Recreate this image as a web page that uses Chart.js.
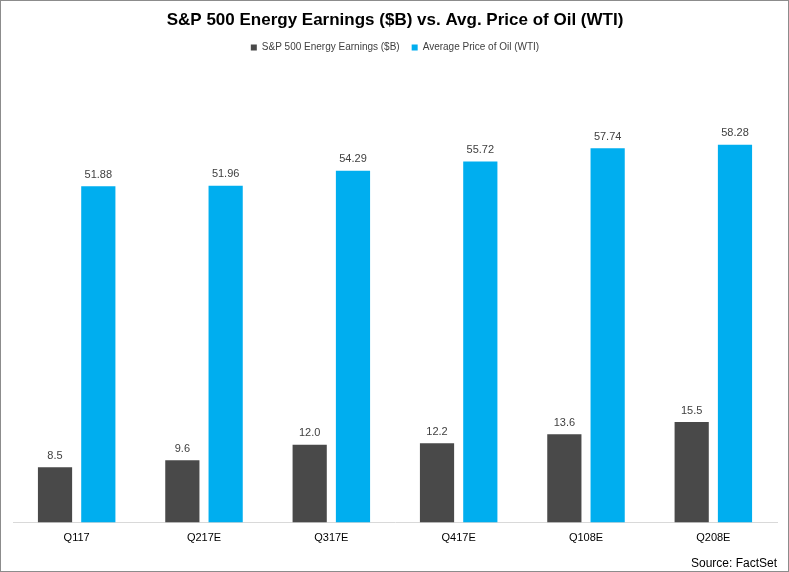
<!DOCTYPE html>
<html>
<head>
<meta charset="utf-8">
<script src="https://cdn.jsdelivr.net/npm/chart.js@4"></script>
<style>
  html, body { margin: 0; padding: 0; background: #fff; }
  #wrap { width: 789px; height: 572px; box-sizing: border-box; border: 1px solid #8c8c8c; }
</style>
</head>
<body>
<div id="wrap"><canvas id="chart1"></canvas></div>
<script>
var quarters = ["Q117", "Q217E", "Q317E", "Q417E", "Q108E", "Q208E"];
var earnings = [8.5, 9.6, 12.0, 12.2, 13.6, 15.5];
var oilPrice = [51.88, 51.96, 54.29, 55.72, 57.74, 58.28];

// simple value labels above each bar
var barLabels = {
  id: "barLabels",
  afterDatasetsDraw: function (chart) {
    var ctx = chart.ctx;
    ctx.save();
    ctx.font = "11px 'Liberation Sans', Arial, sans-serif";
    ctx.fillStyle = "#404040";
    ctx.textAlign = "center";
    ctx.textBaseline = "bottom";
    chart.data.datasets.forEach(function (ds, i) {
      var digits = i === 0 ? 1 : 2;
      chart.getDatasetMeta(i).data.forEach(function (bar, j) {
        ctx.fillText(ds.data[j].toFixed(digits), bar.x, bar.y - 6);
      });
    });
    ctx.restore();
  }
};

var ctx = document.getElementById("chart1");

new Chart(ctx, {
  type: "bar",
  data: {
    labels: quarters,
    datasets: [
      {
        label: "S&P 500 Energy Earnings ($B)",
        data: earnings,
        backgroundColor: "#494949",
        categoryPercentage: 0.68,
        barPercentage: 0.79
      },
      {
        label: "Average Price of Oil (WTI)",
        data: oilPrice,
        backgroundColor: "#00AEEF",
        categoryPercentage: 0.68,
        barPercentage: 0.79
      }
    ]
  },
  options: {
    responsive: true,
    maintainAspectRatio: false,
    animation: false,
    layout: { padding: { left: 12, right: 11, top: 2, bottom: 0 } },
    plugins: {
      title: {
        display: true,
        text: "S&P 500 Energy Earnings ($B) vs. Avg. Price of Oil (WTI)",
        color: "#000",
        font: { family: "'Liberation Sans', Arial, sans-serif", size: 17, weight: "bold" },
        padding: { top: 7, bottom: 0 }
      },
      subtitle: {
        display: true,
        position: "bottom",
        align: "end",
        text: "Source: FactSet",
        color: "#000",
        font: { family: "'Liberation Sans', Arial, sans-serif", size: 12 },
        padding: { top: 11, bottom: 0 }
      },
      legend: {
        labels: {
          usePointStyle: true,
          pointStyle: "rect",
          boxWidth: 6,
          boxHeight: 6,
          color: "#404040",
          font: { family: "'Liberation Sans', Arial, sans-serif", size: 10 },
          padding: 12
        }
      },
      tooltip: { enabled: false }
    },
    scales: {
      x: {
        grid: { display: false },
        border: { color: "#d9d9d9", width: 1 },
        ticks: {
          color: "#000",
          font: { family: "'Liberation Sans', Arial, sans-serif", size: 11 },
          padding: 1
        }
      },
      y: {
        display: false,
        min: 0,
        max: 71
      }
    }
  },
  plugins: [barLabels]
});
</script>
</body>
</html>
